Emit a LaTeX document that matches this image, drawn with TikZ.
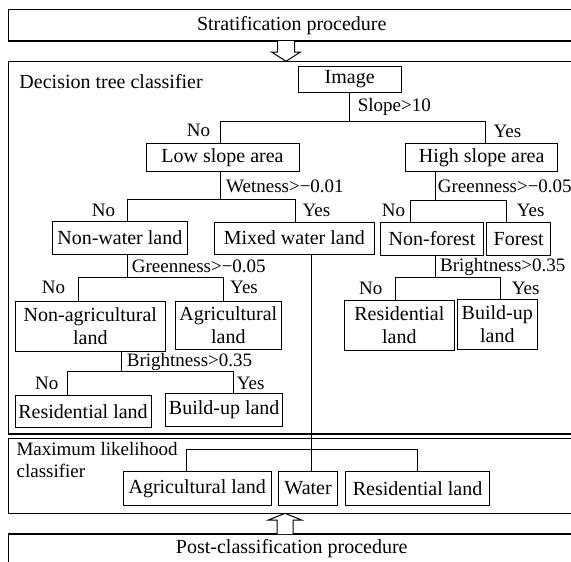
\documentclass[tikz,border=0pt]{standalone}
\usepackage{fontspec}
\setmainfont{Liberation Serif}
\begin{document}
\begin{tikzpicture}[x=1pt,y=-1pt,
  box/.style={draw, line width=1pt, inner sep=0pt, align=center, font=\fontsize{20}{22.4}\selectfont},
  outer/.style={draw, line width=1.1pt, inner sep=0pt},
  lab/.style={anchor=west, inner sep=0pt, font=\fontsize{19}{21}\selectfont},
  conn/.style={line width=1pt},
  hollow/.style={draw, line width=1pt, fill=white, line join=miter}]
\useasboundingbox (0,0) rectangle (571,562);
\clip (0,0) rectangle (571,562);

% outer panels
\node[outer, font=\fontsize{20}{22.4}\selectfont, minimum width=566.5pt, minimum height=31.5pt] (strat) at (291.75,25.25) {Stratification procedure};
\node[outer, minimum width=566.5pt, minimum height=372.5pt] (dt) at (291.75,247.75) {};
\node[outer, minimum width=566.5pt, minimum height=74.8pt] (ml) at (291.75,475.9) {};
\node[outer, font=\fontsize{20}{22.4}\selectfont, minimum width=566.5pt, minimum height=30pt] (post) at (291.75,549) {Post-classification procedure};

\node[anchor=west, inner sep=0pt, font=\fontsize{20}{22.4}\selectfont] (dttitle) at (19.3,81.7) {Decision tree classifier};
\node[anchor=west, inner sep=0pt, align=left, font=\fontsize{19}{21.4}\selectfont] (mltitle) at (16.4,460) {Maximum likelihood\\classifier};

% tree boxes
\node[box, minimum width=102.7pt, minimum height=26.7pt] (image) at (349.65,79.35) {Image};
\node[box, minimum width=153pt, minimum height=28.4pt] (low) at (222.5,157.5) {Low slope area};
\node[box, minimum width=152pt, minimum height=28.4pt] (high) at (481.7,157.5) {High slope area};
\node[box, minimum width=134.3pt, minimum height=32.6pt] (nonwater) at (119.85,238) {Non-water land};
\node[box, minimum width=160pt, minimum height=32.3pt] (mixed) at (294.3,238.15) {Mixed water land};
\node[box, minimum width=102.6pt, minimum height=32.7pt] (nonforest) at (432,238.65) {Non-forest};
\node[box, minimum width=64pt, minimum height=32.7pt] (forest) at (518.7,238.65) {Forest};
\node[box, minimum width=150.7pt, minimum height=49.3pt] (nonagri) at (90.35,326.35) {Non-agricultural\\land};
\node[box, minimum width=105.3pt, minimum height=47.3pt] (agri) at (228.35,325.35) {Agricultural\\land};
\node[box, minimum width=110pt, minimum height=50.7pt] (resR) at (399.3,325.35) {Residential\\land};
\node[box, minimum width=80pt, minimum height=50pt] (buildR) at (497.3,324.3) {Build-up\\land};
\node[box, minimum width=136pt, minimum height=32.7pt] (resL) at (83,411.35) {Residential land};
\node[box, minimum width=117pt, minimum height=33.4pt] (buildL) at (224.2,410) {Build-up land};
\node[box, minimum width=148.3pt, minimum height=34.7pt] (mlagri) at (197.15,488.35) {Agricultural land};
\node[box, minimum width=59pt, minimum height=34.7pt] (water) at (308.1,488.35) {Water};
\node[box, minimum width=144.5pt, minimum height=34.7pt] (mlres) at (417.55,488.35) {Residential land};

% junction coordinates
\coordinate (jA1) at (220,121);   \coordinate (jA2) at (485,121);
\coordinate (jB0) at (220,199);   \coordinate (jB1) at (127.3,199); \coordinate (jB2) at (295,199);
\coordinate (jC0) at (435,200);   \coordinate (jC1) at (410,200);   \coordinate (jC2) at (506.7,200);
\coordinate (jD0) at (127.3,277.7); \coordinate (jD1) at (78.3,277.7); \coordinate (jD2) at (223.3,277.7);
\coordinate (jE0) at (435,277.7); \coordinate (jE1) at (395,277.7); \coordinate (jE2) at (500,277.7);
\coordinate (jF0) at (121,371.7); \coordinate (jF1) at (67.7,371.7); \coordinate (jF2) at (233.3,371.7);
\coordinate (jG0) at (311,449);   \coordinate (jG1) at (186.8,449); \coordinate (jG2) at (417.7,449);

% connectors
\draw[conn] (image.south) -- (image.south |- jA1);
\draw[conn] (low.north -| jA1) -- (jA1) -- (jA2) -- (high.north -| jA2);
\draw[conn] (low.south -| jB0) -- (jB0);
\draw[conn] (nonwater.north -| jB1) -- (jB1) -- (jB2) -- (mixed.north -| jB2);
\draw[conn] (high.south -| jC0) -- (jC0);
\draw[conn] (nonforest.north -| jC1) -- (jC1) -- (jC2) -- (forest.north -| jC2);
\draw[conn] (nonwater.south -| jD0) -- (jD0);
\draw[conn] (nonagri.north -| jD1) -- (jD1) -- (jD2) -- (agri.north -| jD2);
\draw[conn] (nonforest.south -| jE0) -- (jE0);
\draw[conn] (resR.north -| jE1) -- (jE1) -- (jE2) -- (buildR.north -| jE2);
\draw[conn] (nonagri.south -| jF0) -- (jF0);
\draw[conn] (resL.north -| jF1) -- (jF1) -- (jF2) -- (buildL.north -| jF2);
\draw[conn] (mixed.south -| jG0) -- (jG0);
\draw[conn] (mlagri.north -| jG1) -- (jG1) -- (jG2) -- (mlres.north -| jG2);
\draw[conn] (jG0) -- (water.north -| jG0);

% labels
\node[lab] (lA) at (357.7,107.3) {Slope>10};
\node[lab] (nA) at (186.7,130.5) {No};
\node[lab] (yA) at (493.3,131) {Yes};
\node[lab] (lB) at (226,186) {Wetness>−0.01};
\node[lab] (lC) at (437.7,186) {Greenness>−0.05};
\node[lab] (nB) at (91.7,210) {No};
\node[lab] (yB) at (302.3,210) {Yes};
\node[lab] (nC) at (381.7,210) {No};
\node[lab] (yC) at (516.7,210) {Yes};
\node[lab] (lD) at (131.7,266.7) {Greenness>−0.05};
\node[lab] (nD) at (41.7,287.3) {No};
\node[lab] (yD) at (230,287.3) {Yes};
\node[lab] (lE) at (440,266.7) {Brightness>0.35};
\node[lab] (nE) at (359,288.3) {No};
\node[lab] (yE) at (511.7,288.3) {Yes};
\node[lab] (lF) at (126.7,361.7) {Brightness>0.35};
\node[lab] (nF) at (35,383.3) {No};
\node[lab] (yF) at (236.7,383.3) {Yes};

% hollow arrows
\draw[hollow] (277.5,41) -- (277.5,52) -- (271.5,52) -- (286,61.3) -- (300.5,52) -- (294.5,52) -- (294.5,41);
\draw[hollow] (277,534) -- (277,520) -- (268.5,520) -- (285,513.3) -- (301.5,520) -- (293,520) -- (293,534);
\end{tikzpicture}
\end{document}
